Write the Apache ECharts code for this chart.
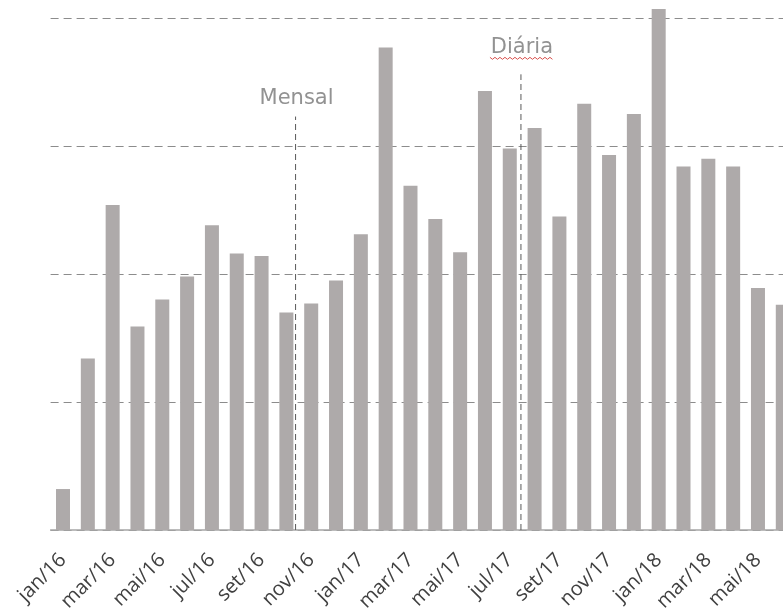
<!DOCTYPE html>
<html>
<head>
<meta charset="utf-8">
<script src="https://cdn.jsdelivr.net/npm/echarts@6/dist/echarts.min.js"></script>
<style>
  html, body { margin: 0; padding: 0; background: #ffffff; overflow: hidden; }
  #chart { width: 783px; height: 610px; }
</style>
</head>
<body>
<div id="chart"></div>
<script>
// Monthly volume, jan/16 .. jun/18
const months = [
  'jan/16', 'fev/16', 'mar/16', 'abr/16', 'mai/16', 'jun/16',
  'jul/16', 'ago/16', 'set/16', 'out/16', 'nov/16', 'dez/16',
  'jan/17', 'fev/17', 'mar/17', 'abr/17', 'mai/17', 'jun/17',
  'jul/17', 'ago/17', 'set/17', 'out/17', 'nov/17', 'dez/17',
  'jan/18', 'fev/18', 'mar/18', 'abr/18', 'mai/18', 'jun/18'
];
const volume = [
  0.32, 1.34, 2.54, 1.59, 1.80, 1.98,
  2.38, 2.16, 2.14, 1.70, 1.77, 1.95,
  2.31, 3.77, 2.69, 2.43, 2.17, 3.43,
  2.98, 3.14, 2.45, 3.33, 2.93, 3.25,
  4.07, 2.84, 2.90, 2.84, 1.89, 1.76
];
// Y scale: gridlines every unit from 0 to 4
const yMin = 0;
const yMax = 4;
const yStep = 1;

// Phase markers: name, position on the month axis, top of the marker line (value units)
const phaseNames = ['Mensal', 'Diária'];
const phaseAt = [9.37, 18.45];
const phaseTop = [3.23, 3.56];

const chart = echarts.init(document.getElementById('chart'), null, { renderer: 'canvas' });

const option = {
  animation: false,
  backgroundColor: '#ffffff',
  // the plot area runs on a little past the right edge of the page
  grid: {
    left: 50.6, top: 18, width: 744.6, height: 512,
    containLabel: false, outerBoundsMode: 'none'
  },
  xAxis: {
    type: 'category',
    data: months,
    boundaryGap: true,
    axisLine: { show: true, lineStyle: { color: '#a6a6a6', width: 1.5 } },
    axisTick: { show: false },
    axisLabel: {
      interval: 1,
      rotate: 45,
      margin: 27,
      color: '#404040',
      fontFamily: 'Open Sans',
      fontSize: 20
    },
    splitLine: { show: false }
  },
  yAxis: {
    type: 'value',
    min: yMin,
    max: yMax,
    interval: yStep,
    axisLine: { show: false },
    axisTick: { show: false },
    axisLabel: { show: false },
    splitLine: { show: true, lineStyle: { color: '#8c8c8c', width: 1, type: [8, 5] } }
  },
  series: [{
    type: 'bar',
    data: volume,
    barWidth: 14,
    clip: false,
    itemStyle: { color: '#aeaaaa' },
    silent: true
  }]
};
chart.setOption(option);

// Pixel x of a fractional position along the month axis
function axisX(pos) {
  const i = Math.floor(pos);
  const f = pos - i;
  const a = chart.convertToPixel({ xAxisIndex: 0 }, i);
  const b = chart.convertToPixel({ xAxisIndex: 0 }, i + 1);
  return a + (b - a) * f;
}
function axisY(v) {
  return chart.convertToPixel({ yAxisIndex: 0 }, v);
}

const gfx = [];
const labelGap = [18, 27];
phaseNames.forEach(function (name, k) {
  const x = axisX(phaseAt[k]);
  const yTop = axisY(phaseTop[k]);
  const yBase = axisY(0);
  gfx.push({
    type: 'line',
    shape: { x1: x, y1: yBase, x2: x, y2: yTop },
    style: { stroke: '#595959', lineWidth: 1, lineDash: [6, 4] },
    silent: true, z: 10
  });
  gfx.push({
    type: 'text',
    x: x + 1,
    y: yTop - labelGap[k],
    style: {
      text: name,
      fill: '#929292',
      font: '21px "DejaVu Sans", sans-serif',
      textAlign: 'center',
      textVerticalAlign: 'middle'
    },
    silent: true, z: 10
  });
});

// Spell-check squiggle under the second marker name
(function () {
  const x = axisX(phaseAt[1]) + 1;
  const y = axisY(phaseTop[1]) - labelGap[1] + 11;
  const pts = [];
  const half = 32;
  let up = true;
  for (let px = x - half; px <= x + half; px += 2.5) {
    pts.push([px, y + (up ? -1 : 1)]);
    up = !up;
  }
  gfx.push({
    type: 'polyline',
    shape: { points: pts },
    style: { stroke: '#d9534f', lineWidth: 1, fill: null },
    silent: true, z: 10
  });
})();

chart.setOption({ graphic: gfx });
</script>
</body>
</html>
